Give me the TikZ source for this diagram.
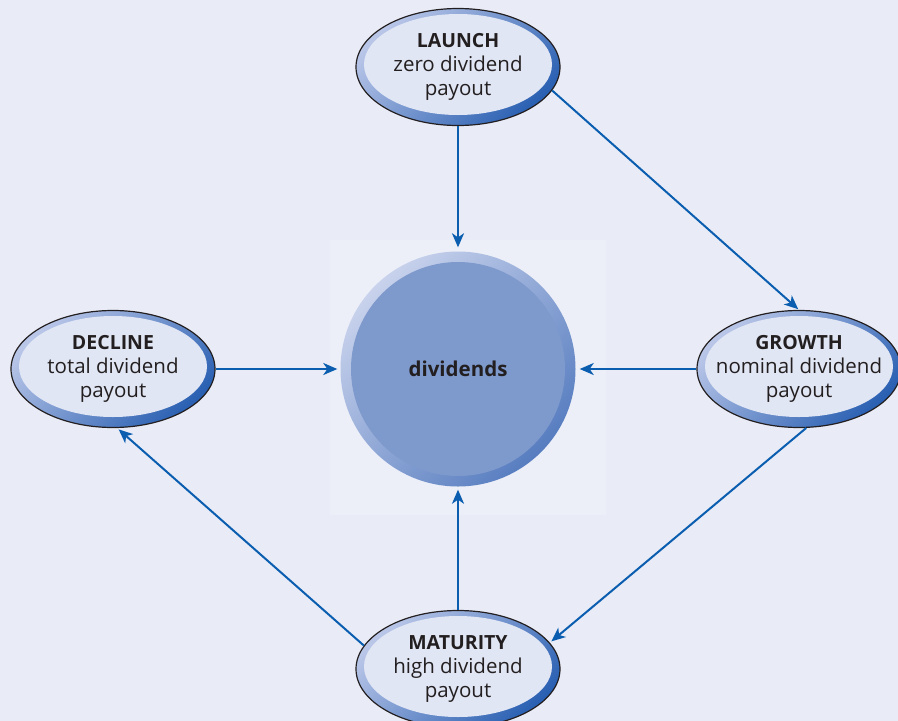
\documentclass[tikz,border=0pt]{standalone}
\usepackage{fontspec}
\setmainfont{Open Sans}
\usetikzlibrary{arrows.meta,shapes.geometric}
\definecolor{bg}{HTML}{E9ECF7}
\definecolor{sq}{HTML}{ECEFF8}
\definecolor{ringL}{HTML}{B9C6E8}
\definecolor{ringD}{HTML}{2A60B2}
\definecolor{innerE}{HTML}{E1E6F4}
\definecolor{outl}{HTML}{231F20}
\definecolor{circL}{HTML}{C8D2EC}
\definecolor{circD}{HTML}{577DC0}
\definecolor{circF}{HTML}{7E99CC}
\definecolor{arrowc}{HTML}{0B5EAF}
\definecolor{txt}{HTML}{231F20}
\newcommand\stagetext[3]{\makebox[0pt][c]{\begin{tabular}{@{}c@{}}{\fontsize{19.5}{24}\selectfont\bfseries #1}\\#2\\#3\end{tabular}}}
\begin{document}
\begin{tikzpicture}[x=1pt,y=-1pt,
  stage/.style={ellipse, minimum width=204pt, minimum height=117pt, inner sep=0pt,
    text=txt, font=\fontsize{20.5}{24}\selectfont,
    draw=outl, line width=1.2pt,
    top color=ringL, bottom color=ringD, shading angle=45,
    path picture={\fill[innerE] ([yshift=2.5pt]path picture bounding box.center) ellipse [x radius=94pt, y radius=50.5pt];}},
  hub/.style={circle, minimum size=235pt, inner sep=0pt, text=txt,
    font=\fontsize{20.5}{24}\selectfont\bfseries,
    top color=circL, bottom color=circD, shading angle=45,
    path picture={\fill[circF] (path picture bounding box.center) circle [radius=107pt];}},
  flow/.style={draw=arrowc, line width=2pt, -{Stealth[length=14pt,width=12pt,inset=4pt]}}]
\useasboundingbox (0,0) rectangle (898,721);
\fill[bg] (0,0) rectangle (898,721);
\fill[sq] (330,240) rectangle (606,515);

\node[hub] (div) at (458,369) {dividends};
\node[stage] (launch) at (458,67) {\stagetext{LAUNCH}{zero dividend}{payout}};
\node[stage] (decline) at (113,369) {\stagetext{DECLINE}{total dividend}{payout}};
\node[stage] (growth) at (799,369) {\stagetext{GROWTH}{nominal dividend}{payout}};
\node[stage] (maturity) at (458,669) {\stagetext{MATURITY}{high dividend}{payout}};

\draw[flow, shorten >=4pt] (launch.south) -- (div.north);
\draw[flow, shorten >=1pt] (launch.-14) -- (growth.north);
\draw[flow, shorten >=4pt] (growth.west) -- (div.east);
\draw[flow, shorten >=3pt] (decline.east) -- (div.west);
\draw[flow, shorten >=2pt] (growth.-83) -- (maturity.16);
\draw[flow, shorten >=3pt] (maturity.north) -- (div.south);
\draw[flow, shorten >=2pt] (maturity.166) -- (decline.-86);
\end{tikzpicture}
\end{document}
